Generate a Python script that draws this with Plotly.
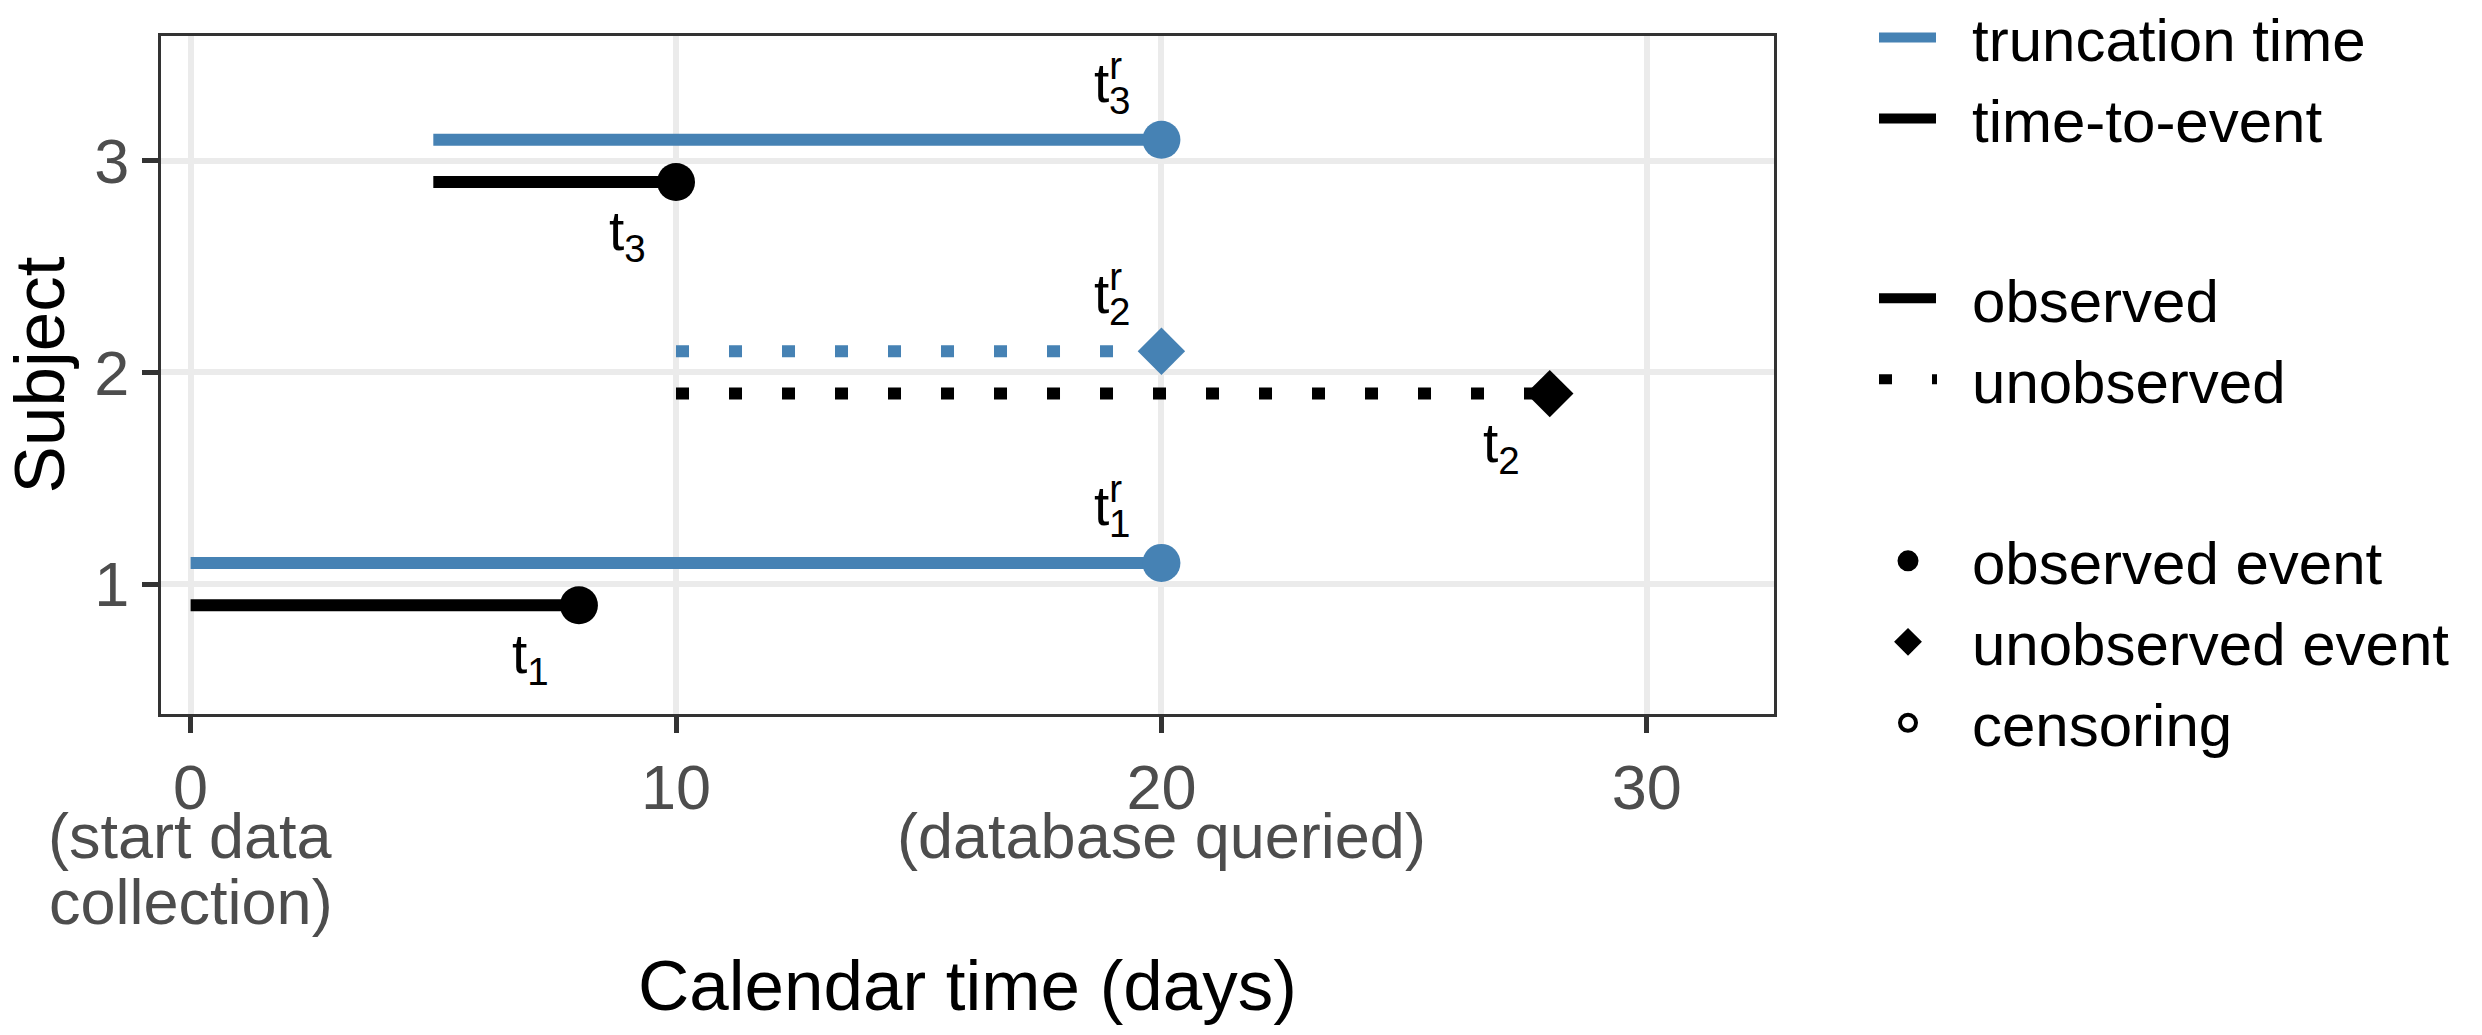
import plotly.graph_objects as go

# ---------------- data ----------------
subjects = [1, 2, 3]
entry_time = [0, 10, 5]          # start of follow-up (calendar days)
event_time = [8, 28, 10]         # time of event
query_time = 20                  # database queried
event_observed = [True, False, True]

x_ticks = [0, 10, 20, 30]
x_tick_text = ["0", "10", "20", "30"]
x_tick_notes = {0: ["(start data", "collection)"], 20: ["(database queried)"]}
y_ticks = [1, 2, 3]

legend_lines = ["truncation time", "time-to-event"]
legend_styles = ["observed", "unobserved"]
legend_markers = ["observed event", "unobserved event", "censoring"]

# ---------------- style ----------------
BLUE = "#4682B4"
BLACK = "#000000"
FONT = "Liberation Sans, Arial, Helvetica, sans-serif"
DODGE = 0.1
DOT = "13px,40px"
LW = 12
MS_CIRCLE = 38
MS_DIAMOND = 36.5
KEY_SOLID = "57px,400px"             # legend key: 57 px long line
KEY_DOT = "13px,40px,5px,400px"      # legend key: dotted, 57 px long

fig = go.Figure()

for s, a, e, obs in zip(subjects, entry_time, event_time, event_observed):
    dash = "solid" if obs else DOT
    # truncation time line
    fig.add_trace(go.Scatter(x=[a, query_time], y=[s + DODGE, s + DODGE], mode="lines",
                             line=dict(color=BLUE, width=LW, dash=dash), showlegend=False,
                             hoverinfo="skip"))
    # time-to-event line
    fig.add_trace(go.Scatter(x=[a, e], y=[s - DODGE, s - DODGE], mode="lines",
                             line=dict(color=BLACK, width=LW, dash=dash), showlegend=False,
                             hoverinfo="skip"))
for s, a, e, obs in zip(subjects, entry_time, event_time, event_observed):
    sym = "circle" if obs else "diamond"
    msize = MS_CIRCLE if obs else MS_DIAMOND
    fig.add_trace(go.Scatter(x=[query_time], y=[s + DODGE], mode="markers",
                             marker=dict(color=BLUE, size=msize, symbol=sym, line=dict(width=0)),
                             showlegend=False))
    fig.add_trace(go.Scatter(x=[e], y=[s - DODGE], mode="markers",
                             marker=dict(color=BLACK, size=msize, symbol=sym, line=dict(width=0)),
                             showlegend=False))

# ---------- legend entries ----------
fig.add_trace(go.Scatter(x=[None], y=[None], mode="lines", name=legend_lines[0],
                         line=dict(color=BLUE, width=10, dash=KEY_SOLID), legend="legend"))
fig.add_trace(go.Scatter(x=[None], y=[None], mode="lines", name=legend_lines[1],
                         line=dict(color=BLACK, width=10, dash=KEY_SOLID), legend="legend"))
fig.add_trace(go.Scatter(x=[None], y=[None], mode="lines", name=legend_styles[0],
                         line=dict(color=BLACK, width=10, dash=KEY_SOLID), legend="legend2"))
fig.add_trace(go.Scatter(x=[None], y=[None], mode="lines", name=legend_styles[1],
                         line=dict(color=BLACK, width=10, dash=KEY_DOT), legend="legend2"))
fig.add_trace(go.Scatter(x=[None], y=[None], mode="markers", name=legend_markers[0],
                         marker=dict(color=BLACK, size=16, symbol="circle", line=dict(width=5, color=BLACK)),
                         legend="legend3"))
fig.add_trace(go.Scatter(x=[None], y=[None], mode="markers", name=legend_markers[1],
                         marker=dict(color=BLACK, size=16, symbol="diamond", line=dict(width=5, color=BLACK)),
                         legend="legend3"))
fig.add_trace(go.Scatter(x=[None], y=[None], mode="markers", name=legend_markers[2],
                         marker=dict(color="white", size=16, symbol="circle", line=dict(width=4, color=BLACK)),
                         legend="legend3"))

# vertical dashed line at query time
fig.add_shape(type="line", x0=query_time, x1=query_time, xref="x", y0=0, y1=1, yref="paper",
              line=dict(color="#7F7F7F", width=4.5, dash="20px,23px"), layer="between")

# ---------- labels ----------
ann = []
LBL = 55
for s, e in zip(subjects, event_time):
    ann.append(dict(x=e - 1, y=s - DODGE - 0.25, xref="x", yref="y", text=f"t<sub>{s}</sub>",
                    showarrow=False, font=dict(family=FONT, size=LBL, color=BLACK)))
    ann.append(dict(x=query_time - 1, y=s + DODGE + 0.25, xref="x", yref="y",
                    text=f"t<sup style=\"letter-spacing:-13px\">r</sup><sub>{s}</sub>",
                    showarrow=False, font=dict(family=FONT, size=LBL, color=BLACK)))

# secondary tick notes
for xv, lines in x_tick_notes.items():
    for i, line in enumerate(lines):
        ann.append(dict(x=xv, y=-0.1793 - i * 0.0985, xref="x", yref="paper", text=line,
                        showarrow=False, yanchor="middle",
                        font=dict(family=FONT, size=63, color="#4D4D4D")))

axis_common = dict(showgrid=True, gridcolor="#EBEBEB", gridwidth=5.5, zeroline=False,
                   showline=True, mirror=True, linecolor="#333333", linewidth=3,
                   ticks="outside", ticklen=16, tickwidth=5, tickcolor="#333333",
                   tickfont=dict(family=FONT, size=63, color="#4D4D4D"))

leg_common = dict(font=dict(family=FONT, size=60, color=BLACK), bgcolor="rgba(0,0,0,0)",
                  xanchor="left", yanchor="top", tracegroupgap=0)

fig.update_layout(
    width=2482, height=1035,
    margin=dict(l=161, r=708, t=36, b=321, autoexpand=False),
    paper_bgcolor="white", plot_bgcolor="white",
    font=dict(family=FONT),
    xaxis=dict(range=[-0.61, 32.62], tickvals=x_ticks, ticktext=x_tick_text,
               title=dict(text="Calendar time (days)", font=dict(family=FONT, size=71, color=BLACK),
                          standoff=140),
               **axis_common),
    yaxis=dict(range=[0.386, 3.590], tickvals=y_ticks,
               title=dict(text="Subject", font=dict(family=FONT, size=71, color=BLACK), standoff=30),
               **axis_common),
    legend=dict(x=1.062, y=1.065, itemwidth=88, **leg_common),
    legend2=dict(x=1.062, y=0.6804, itemwidth=88, **leg_common),
    legend3=dict(x=1.0434, y=0.293, itemwidth=118, **leg_common),
    annotations=ann,
    showlegend=True,
)

fig.write_html("out.html")
